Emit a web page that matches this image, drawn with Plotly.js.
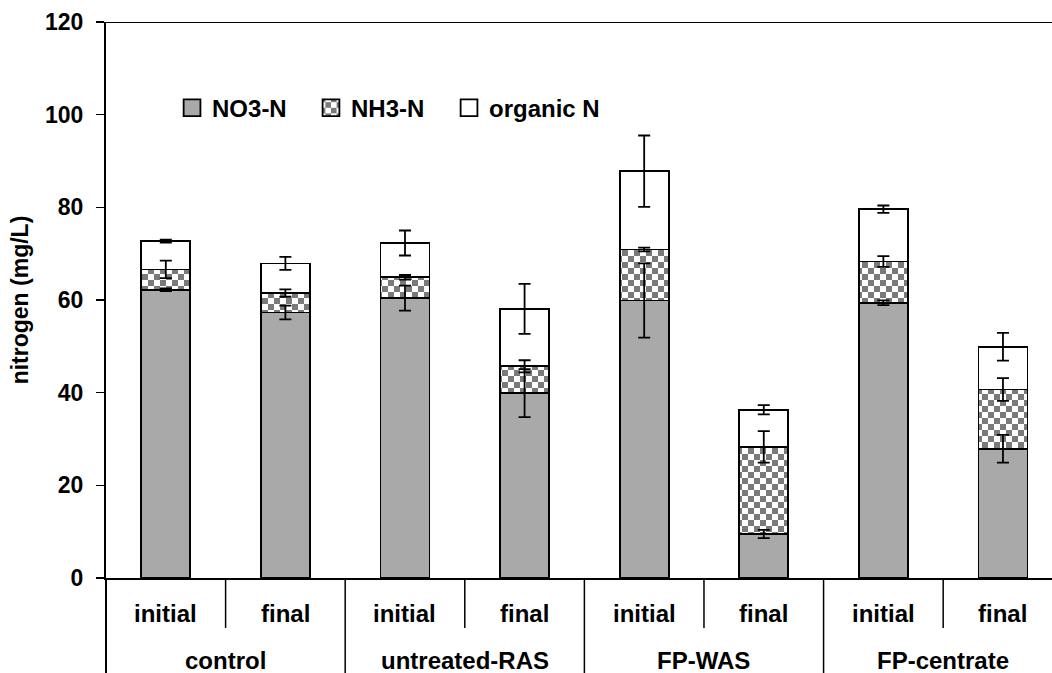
<!DOCTYPE html>
<html>
<head>
<meta charset="utf-8">
<script src="https://cdn.plot.ly/plotly-3.0.1.min.js"></script>
<style>html,body{margin:0;padding:0;background:#fff;}#chart{width:1052px;height:673px;}</style>
</head>
<body>
<div id="chart"></div>
<script>
// ---- data ----
const groups = ['control','control','untreated-RAS','untreated-RAS','FP-WAS','FP-WAS','FP-centrate','FP-centrate'];
const phases = ['initial','final','initial','final','initial','final','initial','final'];
const no3 = [62.2, 57.3, 60.4, 39.9, 59.9, 9.5, 59.4, 27.9];
const nh3 = [4.4, 4.2, 4.5, 5.8, 11.0, 18.8, 8.9, 12.8];
const orgN = [6.1, 6.4, 7.4, 12.4, 16.9, 8.0, 11.3, 9.2];
const no3Err = [0.3, 1.5, 2.7, 5.2, 8.0, 0.9, 0.5, 3.0];
const nh3Err = [1.9, 0.8, 0.5, 1.3, 0.4, 3.4, 1.15, 2.45];
const orgErr = [0.3, 1.4, 2.7, 5.4, 7.7, 1.0, 0.8, 3.0];
const seriesNames = ['NO3-N', 'NH3-N', 'organic N'];

// ---- derived ----
const xCat = [groups, phases];
const topNo3 = no3.slice();
const topNh3 = no3.map((v, i) => v + nh3[i]);
const topOrg = topNh3.map((v, i) => v + orgN[i]);

const FONT = 'Liberation Sans, Arial, sans-serif';
const TXT = {family: FONT, size: 24, weight: 'bold', color: '#000'};
const lineStyle = {color: '#000', width: 1.8};

const bars = [
  {type: 'bar', name: seriesNames[0], legend: 'legend', x: xCat, y: no3,
   marker: {color: '#a9a9a9', line: lineStyle}, hoverinfo: 'y'},
  {type: 'bar', name: seriesNames[1], legend: 'legend2', x: xCat, y: nh3,
   marker: {color: '#ffffff', line: lineStyle,
            pattern: {shape: '+', size: 12, bgcolor: '#ffffff', fgcolor: '#7a7a7a', fillmode: 'replace', solidity: 0.5}},
   hoverinfo: 'y'},
  {type: 'bar', name: seriesNames[2], legend: 'legend3', x: xCat, y: orgN,
   marker: {color: '#ffffff', line: lineStyle}, hoverinfo: 'y'}
];

function errTrace(tops, errs) {
  return {type: 'scatter', mode: 'markers', x: xCat, y: tops,
    marker: {size: 1, opacity: 0}, showlegend: false, hoverinfo: 'skip',
    error_y: {type: 'data', array: errs, visible: true, color: '#000', thickness: 1.8, width: 6}};
}
const errs = [errTrace(topNo3, no3Err), errTrace(topNh3, nh3Err), errTrace(topOrg, orgErr)];

// ---- category axis labels and separators (built from the arrays) ----
const annotations = [];
const shapes = [{type: 'line', xref: 'paper', yref: 'y', x0: 0, x1: 1, y0: 120, y1: 120,
                 line: {color: '#000', width: 2}},
                {type: 'line', xref: 'paper', yref: 'paper', x0: 0, x1: 0, y0: 0, y1: -0.175,
                 line: {color: '#000', width: 2}}];
phases.forEach((p, i) => {
  annotations.push({xref: 'x', yref: 'paper', x: i, y: -0.063, yanchor: 'middle',
                    text: p, showarrow: false, font: TXT});
  if (i > 0) {
    const outer = groups[i] !== groups[i - 1];
    shapes.push({type: 'line', xref: 'x', yref: 'paper', x0: i - 0.5, x1: i - 0.5,
                 y0: 0, y1: outer ? -0.175 : -0.09, line: {color: '#000', width: 1.5}});
  }
});
const uniqueGroups = groups.filter((g, i) => groups.indexOf(g) === i);
uniqueGroups.forEach(g => {
  const idx = groups.map((v, i) => v === g ? i : null).filter(v => v !== null);
  const mid = idx.reduce((a, b) => a + b, 0) / idx.length;
  annotations.push({xref: 'x', yref: 'paper', x: mid, y: -0.1475, yanchor: 'middle',
                    text: g, showarrow: false, font: TXT});
});

const legendBase = {orientation: 'h', xanchor: 'left', y: 0.845, yanchor: 'middle',
                    bgcolor: 'rgba(0,0,0,0)', font: TXT};

const layout = {
  width: 1052, height: 673,
  margin: {l: 106, r: 0, t: 22, b: 95},
  paper_bgcolor: '#fff', plot_bgcolor: '#fff',
  barmode: 'stack', bargap: 0.59,
  font: {family: FONT, color: '#000'},
  showlegend: true,
  legend: Object.assign({}, legendBase, {x: 0.0698}),
  legend2: Object.assign({}, legendBase, {x: 0.2167}),
  legend3: Object.assign({}, legendBase, {x: 0.3626}),
  xaxis: {type: 'multicategory', range: [-0.5, 7.41], autorange: false,
          showline: true, linecolor: '#000', linewidth: 2,
          ticks: '', showticklabels: false, showdividers: false,
          showgrid: false, zeroline: false},
  yaxis: {range: [0, 120], autorange: false, dtick: 20, tick0: 0,
          showline: true, linecolor: '#000', linewidth: 2,
          ticks: 'outside', ticklen: 8, tickwidth: 1.5, tickcolor: '#000',
          ticklabelstandoff: 8,
          showgrid: false, zeroline: false,
          tickfont: {family: FONT, size: 23, weight: 'bold', color: '#000'},
          title: {text: 'nitrogen (mg/L)', standoff: 10,
                  font: {family: FONT, size: 23, weight: 'bold', color: '#000'}}},
  annotations: annotations,
  shapes: shapes
};

function restyleLegendAndPatterns() {
  document.querySelectorAll('#chart pattern').forEach(p => {
    if (p.getAttribute('data-checker')) return;
    const w = parseFloat(p.getAttribute('width')) || 12;
    const h = parseFloat(p.getAttribute('height')) || w;
    while (p.firstChild) p.removeChild(p.firstChild);
    const ns = 'http://www.w3.org/2000/svg';
    const mk = (x, y, ww, hh, fill) => {
      const r = document.createElementNS(ns, 'rect');
      r.setAttribute('x', x); r.setAttribute('y', y);
      r.setAttribute('width', ww); r.setAttribute('height', hh);
      r.setAttribute('fill', fill);
      p.appendChild(r);
    };
    mk(0, 0, w, h, '#ffffff');
    mk(0, 0, w / 2, h / 2, '#7a7a7a');
    mk(w / 2, h / 2, w / 2, h / 2, '#7a7a7a');
    p.setAttribute('data-checker', '1');
  });
  document.querySelectorAll('#chart .legendpoints path').forEach(p => {
    const t = p.getAttribute('transform') || '';
    if (t.indexOf('scale') === -1) {
      p.setAttribute('transform', (t + ' scale(1.4)').trim());
      p.style.strokeWidth = '1.3px';
    }
  });
}

const gd = document.getElementById('chart');
Plotly.newPlot(gd, bars.concat(errs), layout, {displayModeBar: false, staticPlot: true}).then(() => {
  restyleLegendAndPatterns();
  gd.on('plotly_afterplot', restyleLegendAndPatterns);
});
</script>
</body>
</html>
